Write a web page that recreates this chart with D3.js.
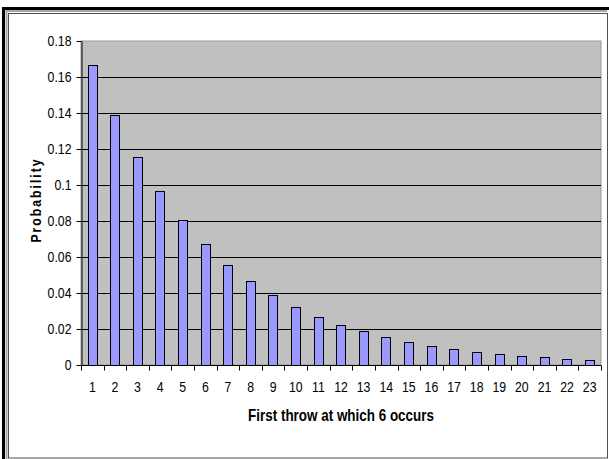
<!DOCTYPE html>
<html>
<head>
<meta charset="utf-8">
<script src="https://cdn.jsdelivr.net/npm/d3@7"></script>
<style>
  html, body { margin: 0; padding: 0; background: #fff; }
  svg { display: block; }
  text { font-family: "Liberation Sans", Arial, sans-serif; }
</style>
</head>
<body>
<svg id="chart" width="609" height="459"></svg>
<script>
// Throw number at which the first 6 appears
const throws = ["1","2","3","4","5","6","7","8","9","10","11","12","13","14","15","16","17","18","19","20","21","22","23"];
// Probability of the first 6 on that throw
const probability = [0.1667, 0.1389, 0.1157, 0.0965, 0.0804, 0.0670, 0.0558, 0.0465, 0.0388, 0.0323,
  0.0269, 0.0224, 0.0187, 0.0156, 0.0130, 0.0108, 0.0090, 0.0075, 0.0063, 0.0052, 0.0043, 0.0036, 0.0030];
const yTicks = [0, 0.02, 0.04, 0.06, 0.08, 0.1, 0.12, 0.14, 0.16, 0.18];

const svg = d3.select("#chart");
const W = 609, H = 459;
const NARROW = 0.82; // horizontal squeeze for a condensed look

// Outer frame: heavy black rule, grey band, thin rule
svg.append("rect").attr("x", 0).attr("y", 0).attr("width", W).attr("height", H).attr("fill", "#fff");
svg.append("path").attr("d", `M3.5,${H} V8.5 H609`).attr("fill", "none").attr("stroke", "#000").attr("stroke-width", 3);
svg.append("path").attr("d", `M6.5,${H} V11 H607`).attr("fill", "none").attr("stroke", "#a8a8a8").attr("stroke-width", 2);
svg.append("rect").attr("x", 8.5).attr("y", 13.5).attr("width", 599).attr("height", 444.5)
  .attr("fill", "#fff").attr("stroke", "#505050").attr("stroke-width", 1);

const plot = { left: 81, top: 41, right: 601, bottom: 365 };

const x = d3.scaleBand().domain(throws).range([plot.left, plot.right]).paddingInner(0.58).paddingOuter(0.29);
const xb = d3.scaleBand().domain(throws).range([plot.left, plot.right]);
const y = d3.scaleLinear().domain([0, 0.18]).range([plot.bottom, plot.top]);

// Plot area
svg.append("rect")
  .attr("x", plot.left).attr("y", plot.top)
  .attr("width", plot.right - plot.left).attr("height", plot.bottom - plot.top)
  .attr("fill", "#c0c0c0").attr("stroke", "#999").attr("stroke-width", 1);

// Horizontal gridlines
svg.append("g").selectAll("line").data(yTicks.filter(d => d > 0 && d < 0.18)).join("line")
  .attr("x1", plot.left).attr("x2", plot.right)
  .attr("y1", d => Math.round(y(d)) + 0.5).attr("y2", d => Math.round(y(d)) + 0.5)
  .attr("stroke", "#000").attr("stroke-width", 1);

// Bars
svg.append("g").selectAll("rect").data(probability).join("rect")
  .attr("x", (d, i) => Math.round(x(throws[i])) + 0.5)
  .attr("y", d => Math.round(y(d)) + 0.5)
  .attr("width", Math.round(x.bandwidth()))
  .attr("height", d => y(0) - Math.round(y(d)))
  .attr("fill", "#9999ff").attr("stroke", "#000").attr("stroke-width", 1);

// Y axis
const yAxis = d3.axisLeft(y).tickValues(yTicks).tickSize(5).tickSizeOuter(0)
  .tickFormat(d => d === 0 ? "0" : String(+d.toFixed(2)));
const gy = svg.append("g").attr("transform", `translate(${plot.left + 0.5},0)`).call(yAxis);
gy.select(".domain").attr("stroke", "#000");
gy.selectAll(".tick line").attr("stroke", "#000");
gy.selectAll(".tick text")
  .attr("font-size", 15).attr("fill", "#000")
  .attr("x", -10 / NARROW).attr("transform", `scale(${NARROW},1)`);

// X axis: ticks fall between categories
const gx = svg.append("g").attr("transform", `translate(0,${plot.bottom + 0.5})`);
gx.append("line").attr("x1", plot.left).attr("x2", plot.right).attr("stroke", "#000");
gx.selectAll("line.t").data(d3.range(throws.length + 1)).join("line").attr("class", "t")
  .attr("x1", i => Math.round(plot.left + i * xb.step()) + 0.5)
  .attr("x2", i => Math.round(plot.left + i * xb.step()) + 0.5)
  .attr("y1", 0).attr("y2", 5).attr("stroke", "#000");
gx.selectAll("text").data(throws).join("text")
  .attr("transform", d => `translate(${xb(d) + xb.bandwidth() / 2},26) scale(${NARROW},1)`)
  .attr("text-anchor", "middle")
  .attr("font-size", 15).attr("fill", "#000").text(d => d);

// Axis titles
svg.append("text").attr("transform", `translate(341,421) scale(0.84,1)`).attr("text-anchor", "middle")
  .attr("font-size", 16).attr("font-weight", "bold").text("First throw at which 6 occurs");
svg.append("text").attr("transform", `translate(41,200) rotate(-90) scale(${NARROW},1)`).attr("text-anchor", "middle")
  .attr("font-size", 15).attr("font-weight", "bold").attr("letter-spacing", 2.4).text("Probability");
</script>
</body>
</html>
